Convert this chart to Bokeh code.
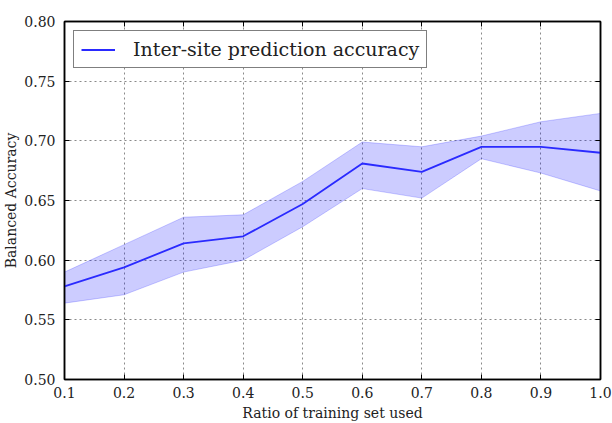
from bokeh.plotting import figure
from bokeh.models import (ColumnDataSource, Range1d, LinearAxis, FixedTicker,
                          NumeralTickFormatter, CustomJSTickFormatter, Legend, LegendItem, Band)
from bokeh.embed import file_html
from bokeh.resources import INLINE

# ---- data ----
ratio = [0.1, 0.2, 0.3, 0.4, 0.5, 0.6, 0.7, 0.8, 0.9, 1.0]
acc_mean = [0.578, 0.594, 0.614, 0.620, 0.647, 0.681, 0.674, 0.695, 0.695, 0.690]
acc_upper = [0.590, 0.613, 0.636, 0.638, 0.666, 0.699, 0.695, 0.704, 0.716, 0.723]
acc_lower = [0.564, 0.571, 0.590, 0.600, 0.628, 0.660, 0.652, 0.685, 0.673, 0.658]
x_ticks = [0.1, 0.2, 0.3, 0.4, 0.5, 0.6, 0.7, 0.8, 0.9, 1.0]
y_ticks = [0.50, 0.55, 0.60, 0.65, 0.70, 0.75, 0.80]
series_label = "Inter-site prediction accuracy"
x_label = "Ratio of training set used"
y_label = "Balanced Accuracy"

FONT = "DejaVu Serif"
TXT = "#222222"

src = ColumnDataSource(dict(x=ratio, m=acc_mean, u=acc_upper, l=acc_lower))

p = figure(width=612, height=423, output_backend="svg", toolbar_location=None,
           x_range=Range1d(0.1, 1.0), y_range=Range1d(0.5, 0.8),
           min_border_left=64, min_border_right=12, min_border_top=21, min_border_bottom=43,
           x_axis_location=None, y_axis_location=None)
p.background_fill_color = "white"
p.border_fill_color = "white"
p.outline_line_color = "black"
p.outline_line_width = 1.5

def style_axis(ax, ticks, fmt, show_labels):
    ax.ticker = FixedTicker(ticks=ticks)
    ax.formatter = NumeralTickFormatter(format=fmt) if show_labels else CustomJSTickFormatter(code="return ''")
    ax.major_tick_in = 5
    ax.major_tick_out = 0
    ax.minor_tick_in = 0
    ax.minor_tick_out = 0
    ax.axis_line_color = "black"
    ax.axis_line_width = 1.5
    ax.major_tick_line_color = "black"
    ax.major_tick_line_width = 1
    ax.major_label_text_font = FONT
    ax.major_label_text_font_size = "14px"
    ax.major_label_text_color = TXT
    ax.axis_label_text_font = FONT
    ax.axis_label_text_font_size = "14px"
    ax.axis_label_text_font_style = "normal"
    ax.axis_label_text_color = TXT

xb = LinearAxis()
style_axis(xb, x_ticks, "0.0", True)
xb.axis_label = x_label
xb.major_label_standoff = 7
xb.axis_label_standoff = 4
p.add_layout(xb, "below")

yl = LinearAxis()
style_axis(yl, y_ticks, "0.00", True)
yl.axis_label = y_label
yl.major_label_standoff = 9
yl.axis_label_standoff = 2
p.add_layout(yl, "left")

xt = LinearAxis()
style_axis(xt, x_ticks, "0.0", False)
xt.major_label_standoff = 0
p.add_layout(xt, "above")

yr = LinearAxis()
style_axis(yr, y_ticks, "0.00", False)
yr.major_label_standoff = 0
p.add_layout(yr, "right")

p.xgrid.ticker = FixedTicker(ticks=x_ticks)
p.ygrid.ticker = FixedTicker(ticks=y_ticks)
for g in (p.xgrid, p.ygrid):
    g.grid_line_color = "#8a8a8a"
    g.grid_line_width = 1
    g.grid_line_dash = "2 3"

band = Band(base="x", lower="l", upper="u", source=src, level="underlay",
            fill_color="#0000ff", fill_alpha=0.2, line_color="#0000ff", line_alpha=0.2, line_width=1)
p.add_layout(band)

r = p.line("x", "m", source=src, line_color="#2a2aff", line_width=1.8)

legend = Legend(items=[LegendItem(label=series_label, renderers=[r])], location="top_left")
legend.margin = 9
legend.padding = 7
legend.glyph_width = 34
legend.glyph_height = 19
legend.label_height = 19
legend.label_standoff = 18
legend.label_text_font = FONT
legend.label_text_font_size = "19px"
legend.label_text_color = TXT
legend.border_line_color = "black"
legend.border_line_width = 1.5
legend.background_fill_color = "white"
legend.background_fill_alpha = 1.0
p.add_layout(legend, "center")

open("out.html", "w").write(file_html(p, INLINE))
